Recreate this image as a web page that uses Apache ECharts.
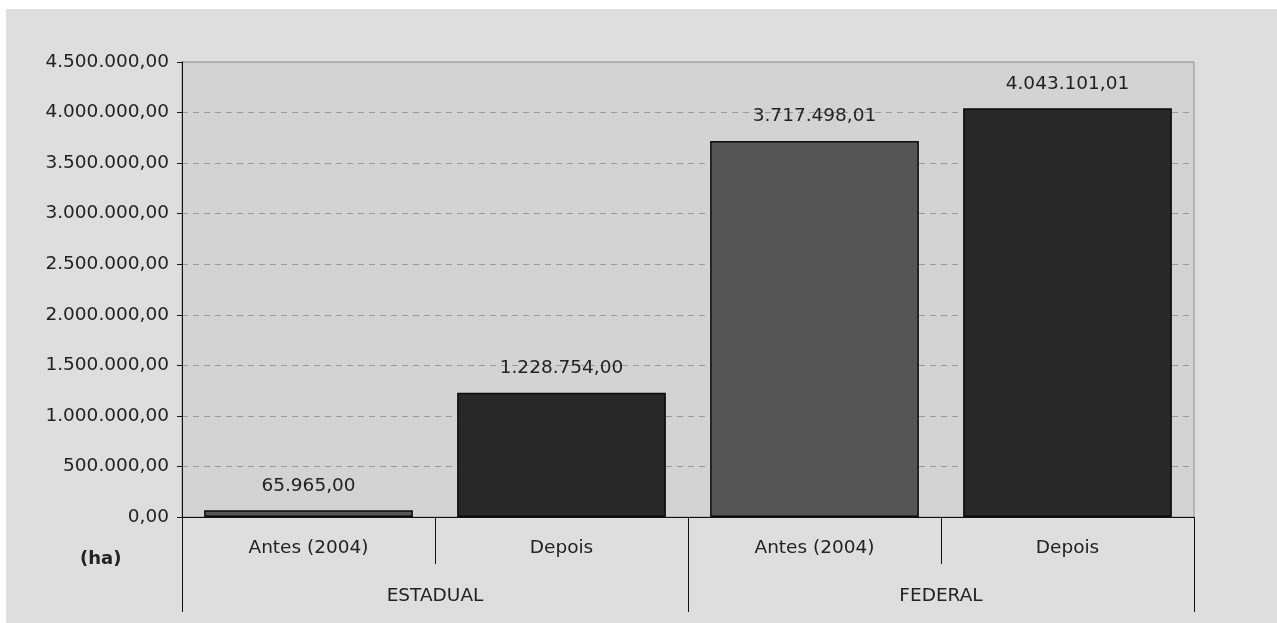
<!DOCTYPE html>
<html>
<head>
<meta charset="utf-8">
<script src="https://cdn.jsdelivr.net/npm/echarts@6/dist/echarts.min.js"></script>
<style>
  html, body { margin: 0; padding: 0; background: #ffffff; overflow: hidden; }
  #chart { position: absolute; left: 6px; top: 9px; width: 1271px; height: 614px; }
</style>
</head>
<body>
<div id="chart"></div>
<script>
// Área (ha) antes e depois, por esfera
const subCategories = ['Antes (2004)', 'Depois', 'Antes (2004)', 'Depois'];
const groups = ['ESTADUAL', 'FEDERAL'];
const areaValues = [65965.00, 1228754.00, 3717498.01, 4043101.01];
const barColors = ['#555555', '#282828', '#555555', '#282828'];
const yMin = 0, yMax = 4500000, yStep = 500000;

const fmt = v => v.toLocaleString('pt-BR', { minimumFractionDigits: 2, maximumFractionDigits: 2 });

const FONT = '"DejaVu Sans", Verdana, sans-serif';
const chart = echarts.init(document.getElementById('chart'), null, { renderer: 'canvas' });

chart.setOption({
  backgroundColor: '#dedede',
  animation: false,
  textStyle: { fontFamily: FONT },
  grid: {
    left: 176, right: 83, top: 53, bottom: 106,
    show: true, backgroundColor: '#d3d3d3', borderColor: '#8c8c8c', borderWidth: 1
  },
  xAxis: [
    {
      type: 'category',
      data: subCategories,
      position: 'bottom',
      axisLine: { show: true, lineStyle: { color: '#111', width: 1 } },
      axisTick: { show: true, interval: 0, length: 47, lineStyle: { color: '#111' } },
      axisLabel: { interval: 0, margin: 22, color: '#222', fontSize: 18.5, fontFamily: FONT },
      splitLine: { show: false }
    },
    {
      type: 'category',
      data: groups,
      position: 'bottom',
      axisLine: { show: false },
      axisTick: { show: true, interval: 0, length: 95, lineStyle: { color: '#111' } },
      axisLabel: { interval: 0, margin: 70, color: '#222', fontSize: 18.5, fontFamily: FONT },
      splitLine: { show: false }
    }
  ],
  yAxis: {
    type: 'value',
    min: yMin, max: yMax, interval: yStep,
    axisLine: { show: true, lineStyle: { color: '#111', width: 1 } },
    axisTick: { show: true, length: 5, lineStyle: { color: '#111' } },
    axisLabel: { margin: 13, color: '#222', fontSize: 18.5, fontFamily: FONT, formatter: fmt },
    splitLine: {
      show: true, showMinLine: false, showMaxLine: false,
      lineStyle: { color: '#9a9a9a', type: [6, 5], width: 1 }
    }
  },
  graphic: [
    {
      type: 'text', left: 74, top: 541,
      style: { text: '(ha)', font: 'bold 18px ' + FONT, fill: '#222' }
    }
  ],
  series: [
    {
      type: 'bar',
      xAxisIndex: 0,
      barCategoryGap: '17.5%',
      data: areaValues.map((v, i) => ({
        value: v,
        itemStyle: { color: barColors[i], borderColor: '#0a0a0a', borderWidth: 1.5 }
      })),
      label: {
        show: true, position: 'top', distance: 15,
        color: '#222', fontSize: 18.5, fontFamily: FONT,
        formatter: p => fmt(p.value)
      }
    }
  ]
});
</script>
</body>
</html>
